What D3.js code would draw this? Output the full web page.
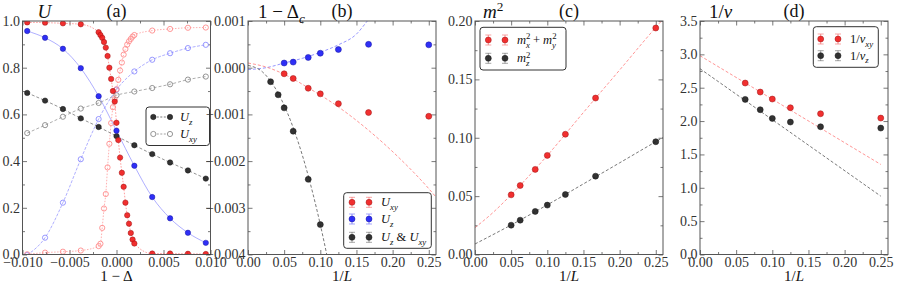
<!DOCTYPE html>
<html>
<head>
<meta charset="utf-8">
<script src="https://cdn.jsdelivr.net/npm/d3@7"></script>
<style>
body { margin: 0; background: #fff; }
svg { display: block; }
svg text { font-family: "Liberation Serif", "DejaVu Serif", serif !important; }
</style>
</head>
<body>
<svg id="fig" width="915" height="286"></svg>
<script>
// ---- panel (a): Binder ratios vs 1 - Delta ----
const aX = [-0.0095, -0.0076, -0.0057, -0.0038, -0.0019, 0, 0.0019, 0.0038, 0.0057, 0.0076, 0.0095];
const aUzBlack = [0.692, 0.659, 0.623, 0.583, 0.546, 0.507, 0.468, 0.430, 0.394, 0.360, 0.325];
const aUxyBlack = [0.520, 0.554, 0.590, 0.625, 0.649, 0.682, 0.698, 0.713, 0.729, 0.749, 0.762];
const aUzBlue = [0.957, 0.928, 0.881, 0.798, 0.678, 0.530, 0.380, 0.246, 0.155, 0.093, 0.050];
const aUxyBlue = [-0.002, 0.072, 0.222, 0.408, 0.580, 0.706, 0.784, 0.834, 0.862, 0.884, 0.898];
const aXRed = [-0.0095, -0.0076, -0.0057, -0.0038,
  -0.0019, -0.00171, -0.00152, -0.00133, -0.00114, -0.00095, -0.00076, -0.00057, -0.00038, -0.00019, 0,
  0.00019, 0.00038, 0.00057, 0.00076, 0.00095, 0.00114, 0.00133, 0.00152, 0.00171, 0.0019,
  0.0038, 0.0057, 0.0076, 0.0095];
const aUzRed = [0.994, 0.993, 0.990, 0.986,
  0.952, 0.940, 0.928, 0.910, 0.886, 0.850, 0.800, 0.752, 0.700, 0.655, 0.564,
  0.490, 0.415, 0.350, 0.290, 0.222, 0.168, 0.132, 0.092, 0.064, 0.047,
  0.004, 0.004, 0.003, 0.002];
const aUxyRed = [0.001, 0.008, 0.012, 0.017,
  0.036, 0.046, 0.114, 0.197, 0.259, 0.373, 0.474, 0.563, 0.631, 0.665, 0.708,
  0.748, 0.788, 0.822, 0.856, 0.880, 0.899, 0.913, 0.923, 0.933, 0.940,
  0.959, 0.966, 0.971, 0.972];

// ---- panel (b): crossing points vs 1/L ----
const invL = [0.05, 0.0625, 0.0833, 0.1, 0.125, 0.1667, 0.25];
const bUxy = [-0.00013, -0.00023, -0.00044, -0.00056, -0.00077, -0.00096, -0.00104];
const bUz = [0.00010, 0.00012, 0.00022, 0.00031, 0.00039, 0.00050, 0.00049];
const bCrossX = [0.03125, 0.0417, 0.05, 0.0625, 0.0833, 0.1];
const bCross = [-0.00030, -0.00058, -0.00086, -0.00136, -0.00239, -0.00336];
// fitted curves
const bFitUxy = [[0, 0.0001], [0.025, 0.000015], [0.05, -0.00014], [0.0833, -0.00043], [0.125, -0.00084],
  [0.1667, -0.00134], [0.2083, -0.00192], [0.25, -0.00259], [0.26, -0.00277]];
const bFitUz = [[0, -0.00004], [0.025, 0.0], [0.05, 0.0001], [0.075, 0.0002], [0.1, 0.00033],
  [0.125, 0.00049], [0.15, 0.00072], [0.165, 0.00100], [0.18, 0.00130]];
const bFitCross = [[0, 0.00005], [0.02, -0.00009], [0.04, -0.0005], [0.06, -0.00118],
  [0.08, -0.00213], [0.1, -0.00336], [0.12, -0.00486]];

// ---- panel (c): order parameters vs 1/L ----
const cMxy = [0.0511, 0.0591, 0.0729, 0.0849, 0.1030, 0.1340, 0.1940];
const cMz = [0.0251, 0.0294, 0.0369, 0.0423, 0.0514, 0.0671, 0.0966];
const cFitMxy = [[0, 0.023], [0.025, 0.036], [0.05, 0.0512], [0.1, 0.0848], [0.15, 0.1217], [0.2, 0.158], [0.25, 0.1945], [0.26, 0.2015]];
const cFitMz = [[0, 0.009], [0.05, 0.0253], [0.1, 0.0425], [0.15, 0.0605], [0.2, 0.0785], [0.25, 0.0966], [0.26, 0.1002]];

// ---- panel (d): 1/nu vs 1/L ----
const dX = [0.0625, 0.0833, 0.1, 0.125, 0.1667, 0.25];
const dNuXy = [2.57, 2.435, 2.33, 2.20, 2.11, 2.045];
const dNuZ = [2.325, 2.17, 2.04, 1.985, 1.915, 1.895];
const dFitXy = [[0, 2.98], [0.25, 1.35]];
const dFitZ = [[0, 2.785], [0.25, 0.875]];

// tick labels
const aXTicks = [-0.01, -0.005, 0, 0.005, 0.01];
const aYTicks = [0, 0.2, 0.4, 0.6, 0.8, 1.0];
const lTicks = [0, 0.05, 0.1, 0.15, 0.2, 0.25];
const bYTicks = [-0.004, -0.003, -0.002, -0.001, 0, 0.001];
const cYTicks = [0, 0.05, 0.1, 0.15, 0.2];
const dYTicks = [0, 0.5, 1, 1.5, 2, 2.5, 3, 3.5];

const FONT = "Liberation Serif, DejaVu Serif, serif";
const RED = "#f01e1e", BLUE = "#1e1ef5", BLACK = "#222";
const svg = d3.select("#fig").attr("font-family", FONT);
const TOP = 21, BOT = 254.5, PW = 188;

function rich(g, x, y, size, anchor, parts) {
  const t = g.append("text").attr("x", x).attr("y", y).attr("font-size", size)
    .attr("text-anchor", anchor).attr("fill", "#111");
  let base = 0;
  parts.forEach(p => {
    const s = t.append("tspan").text(p.t);
    const off = p.sub ? size * 0.28 : p.sup ? -size * 0.38 : 0;
    if (off - base !== 0) s.attr("dy", off - base);
    base = off;
    if (p.sub || p.sup) s.attr("font-size", size * 0.7);
    if (p.it) s.attr("font-style", "italic");
    if (p.dx) s.attr("dx", p.dx);
  });
  return t;
}

function makePanel(left, xDom, yDom, o) {
  const x = d3.scaleLinear().domain(xDom).range([left, left + PW]);
  const y = d3.scaleLinear().domain(yDom).range([BOT, TOP]);
  const g = svg.append("g");
  const id = "clip" + Math.round(left);
  svg.append("clipPath").attr("id", id).append("rect")
    .attr("x", left).attr("y", TOP).attr("width", PW).attr("height", BOT - TOP);
  const styleAx = s => {
    s.select(".domain").remove();
    s.selectAll("line").attr("stroke", "#555").attr("stroke-width", 0.8);
    s.attr("font-family", FONT).attr("font-size", 14);
    s.selectAll("text").attr("fill", "#333");
  };
  const none = () => "";
  g.append("g").attr("transform", `translate(0,${BOT})`)
    .call(d3.axisBottom(x).tickValues(o.xt).tickFormat(o.xf).tickSizeInner(-4.5).tickSizeOuter(0).tickPadding(2.5)).call(styleAx);
  g.append("g").attr("transform", `translate(0,${BOT})`)
    .call(d3.axisBottom(x).tickValues(o.xm).tickFormat(none).tickSize(-2.5)).call(styleAx);
  g.append("g").attr("transform", `translate(0,${TOP})`)
    .call(d3.axisTop(x).tickValues(o.xt).tickFormat(none).tickSize(-4.5)).call(styleAx);
  g.append("g").attr("transform", `translate(0,${TOP})`)
    .call(d3.axisTop(x).tickValues(o.xm).tickFormat(none).tickSize(-2.5)).call(styleAx);
  g.append("g").attr("transform", `translate(${left},0)`)
    .call(d3.axisLeft(y).tickValues(o.yt).tickFormat(o.yf).tickSizeInner(-4.5).tickSizeOuter(0).tickPadding(2.5)).call(styleAx);
  g.append("g").attr("transform", `translate(${left},0)`)
    .call(d3.axisLeft(y).tickValues(o.ym).tickFormat(none).tickSize(-2.5)).call(styleAx);
  g.append("g").attr("transform", `translate(${left + PW},0)`)
    .call(d3.axisRight(y).tickValues(o.yt).tickFormat(none).tickSize(-4.5)).call(styleAx);
  g.append("g").attr("transform", `translate(${left + PW},0)`)
    .call(d3.axisRight(y).tickValues(o.ym).tickFormat(none).tickSize(-2.5)).call(styleAx);
  const plot = g.append("g").attr("clip-path", `url(#${id})`);
  g.append("rect").attr("x", left).attr("y", TOP).attr("width", PW).attr("height", BOT - TOP)
    .attr("fill", "none").attr("stroke", "#555").attr("stroke-width", 1);
  // title, panel letter, x label
  rich(g, left + o.titleDx, 18, 19, "start", o.title);
  rich(g, left + PW / 2, 17, 18, "middle", [{ t: o.letter }]);
  rich(g, left + PW / 2, 281, 15, "middle", o.xlabel);
  return { g, x, y, plot };
}

function dots(p, xs, ys, col, r, open) {
  p.plot.append("g").selectAll("circle").data(xs.map((v, i) => [v, ys[i]])).join("circle")
    .attr("cx", d => p.x(d[0])).attr("cy", d => p.y(d[1])).attr("r", r)
    .attr("fill", open ? "none" : col).attr("fill-opacity", 0.92)
    .attr("stroke", open ? col : d3.color(col).darker(1.2)).attr("stroke-width", open ? 0.9 : 0.5);
}
function curve(p, pts, col, dash, w) {
  p.plot.append("path").datum(pts)
    .attr("d", d3.line().x(d => p.x(d[0])).y(d => p.y(d[1])).curve(d3.curveMonotoneX))
    .attr("fill", "none").attr("stroke", col).attr("stroke-width", w || 0.8)
    .attr("stroke-dasharray", dash);
}
const zip = (xs, ys) => xs.map((v, i) => [v, ys[i]]);

function legend(g, x0, y0, w, h, rows) {
  g.append("rect").attr("x", x0).attr("y", y0).attr("width", w).attr("height", h).attr("rx", 3)
    .attr("fill", "#fff").attr("stroke", "#333").attr("stroke-width", 1);
  rows.forEach(r => {
    const [m1, m2] = r.mx;
    if (r.line) g.append("line").attr("x1", m1).attr("x2", m2).attr("y1", r.y).attr("y2", r.y)
      .attr("stroke", r.lineCol).attr("stroke-width", 0.8).attr("stroke-dasharray", r.line);
    [m1, m2].forEach(mx => {
      if (r.err) {
        g.append("path").attr("d", `M${mx},${r.y - 5}V${r.y + 5}M${mx - 3},${r.y - 5}H${mx + 3}M${mx - 3},${r.y + 5}H${mx + 3}`)
          .attr("stroke", r.col).attr("stroke-opacity", 0.45).attr("stroke-width", 0.9).attr("fill", "none");
      }
      g.append("circle").attr("cx", mx).attr("cy", r.y).attr("r", r.r)
        .attr("fill", r.open ? "#fff" : r.col).attr("fill-opacity", r.open ? 1 : 0.92)
        .attr("stroke", r.open ? r.col : d3.color(r.col).darker(1.2)).attr("stroke-width", r.open ? 0.9 : 0.5);
    });
    rich(g, r.tx, r.y + 4, 12.5, "start", r.text);
  });
}

const f3 = d3.format(".3f"), f2 = d3.format(".2f"), f1 = d3.format(".1f");
const lMinor = [0.025, 0.075, 0.125, 0.175, 0.225];

// ---------- (a) ----------
const pa = makePanel(22.5, [-0.01, 0.01], [0, 1], {
  xt: aXTicks, xf: f3, xm: [-0.0075, -0.0025, 0.0025, 0.0075],
  yt: aYTicks, yf: f1, ym: [0.1, 0.3, 0.5, 0.7, 0.9],
  title: [{ t: "U", it: true }], titleDx: 15, letter: "(a)",
  xlabel: [{ t: "1 − Δ" }]
});
curve(pa, zip(aX, aUxyBlack), "#8a8a8a", "3,2", 0.7);
curve(pa, zip(aX, aUxyBlue), "#8c8cff", "3,1.5", 0.7);
curve(pa, zip(aXRed, aUxyRed), "#ff8c8c", "1.5,1.5", 0.7);
curve(pa, zip(aX, aUzBlack), "#666", "3,2", 0.7);
curve(pa, zip(aX, aUzBlue), "#7878ff", null, 0.6);
curve(pa, zip(aXRed, aUzRed), "#ff7070", "1.5,1.5", 0.7);
dots(pa, aX, aUxyBlack, "#8a8a8a", 2.6, true);
dots(pa, aX, aUxyBlue, "#8c8cff", 2.6, true);
dots(pa, aXRed, aUxyRed, "#ff8c8c", 2.6, true);
dots(pa, aX, aUzBlack, BLACK, 2.7, false);
dots(pa, aX, aUzBlue, BLUE, 2.7, false);
dots(pa, aXRed, aUzRed, RED, 2.7, false);
legend(pa.g, 146, 107, 63.5, 38.5, [
  { y: 117, mx: [153.3, 170], col: BLACK, r: 2.7, line: "2,1.5", lineCol: "#555", tx: 180, text: [{ t: "U", it: true }, { t: "z", it: true, sub: true }] },
  { y: 134, mx: [153.3, 170], col: "#8a8a8a", r: 2.6, open: true, line: "2,1.5", lineCol: "#8a8a8a", tx: 180, text: [{ t: "U", it: true }, { t: "xy", it: true, sub: true }] }
]);

// ---------- (b) ----------
const pb = makePanel(248, [0, 0.26], [-0.004, 0.001], {
  xt: lTicks, xf: f2, xm: lMinor,
  yt: bYTicks, yf: f3, ym: [-0.0035, -0.0025, -0.0015, -0.0005, 0.0005],
  title: [{ t: "1 − Δ" }, { t: "c", it: true, sub: true }], titleDx: 10, letter: "(b)",
  xlabel: [{ t: "1/" }, { t: "L", it: true }]
});
curve(pb, bFitUz, "#7a7aff", "3,2", 0.8);
curve(pb, bFitUxy, "#ff7a7a", "3,2", 0.8);
curve(pb, bFitCross, "#555", "3,2", 0.8);
dots(pb, invL, bUz, BLUE, 3, false);
dots(pb, invL, bUxy, RED, 3, false);
dots(pb, bCrossX, bCross, BLACK, 3, false);
legend(pb.g, 343.7, 192.7, 87.6, 55.6, [
  { y: 202.3, mx: [352, 369], col: RED, r: 3, err: true, tx: 381, text: [{ t: "U", it: true }, { t: "xy", it: true, sub: true }] },
  { y: 219, mx: [352, 369], col: BLUE, r: 3, err: true, tx: 381, text: [{ t: "U", it: true }, { t: "z", it: true, sub: true }] },
  { y: 237.3, mx: [352, 369], col: BLACK, r: 3, err: true, tx: 381,
    text: [{ t: "U", it: true }, { t: "z", it: true, sub: true }, { t: " & " }, { t: "U", it: true }, { t: "xy", it: true, sub: true }] }
]);

// ---------- (c) ----------
const pc = makePanel(475, [0, 0.26], [0, 0.2], {
  xt: lTicks, xf: f2, xm: lMinor,
  yt: cYTicks, yf: f2, ym: [0.025, 0.075, 0.125, 0.175],
  title: [{ t: "m", it: true }, { t: "2", sup: true }], titleDx: 8, letter: "(c)",
  xlabel: [{ t: "1/" }, { t: "L", it: true }]
});
curve(pc, cFitMxy, "#ff7a7a", "3,2", 0.8);
curve(pc, cFitMz, "#555", "3,2", 0.8);
dots(pc, invL, cMxy, RED, 3, false);
dots(pc, invL, cMz, BLACK, 3, false);
legend(pc.g, 480, 27.3, 86, 42.7, [
  { y: 40, mx: [488.3, 505], col: RED, r: 3, err: true, tx: 517,
    text: [{ t: "m", it: true }, { t: "2", sup: true }, { t: "x", it: true, sub: true, dx: -4.5 }, { t: " + " },
      { t: "m", it: true }, { t: "2", sup: true }, { t: "y", it: true, sub: true, dx: -4.5 }] },
  { y: 58.3, mx: [488.3, 505], col: BLACK, r: 3, err: true, tx: 517,
    text: [{ t: "m", it: true }, { t: "2", sup: true }, { t: "z", it: true, sub: true, dx: -4.5 }] }
]);

// ---------- (d) ----------
const pd = makePanel(700, [0, 0.26], [0, 3.5], {
  xt: lTicks, xf: f2, xm: lMinor,
  yt: dYTicks, yf: f1, ym: [0.25, 0.75, 1.25, 1.75, 2.25, 2.75, 3.25],
  title: [{ t: "1/" }, { t: "ν", it: true }], titleDx: 9, letter: "(d)",
  xlabel: [{ t: "1/" }, { t: "L", it: true }]
});
curve(pd, dFitXy, "#ff7a7a", "3,2", 0.8);
curve(pd, dFitZ, "#555", "3,2", 0.8);
dots(pd, dX, dNuXy, RED, 3, false);
dots(pd, dX, dNuZ, BLACK, 3, false);
legend(pd.g, 813.3, 26.7, 65, 40.6, [
  { y: 39, mx: [820.7, 838], col: RED, r: 3, err: true, tx: 850,
    text: [{ t: "1/" }, { t: "ν", it: true }, { t: "xy", it: true, sub: true }] },
  { y: 55.7, mx: [820.7, 838], col: BLACK, r: 3, err: true, tx: 850,
    text: [{ t: "1/" }, { t: "ν", it: true }, { t: "z", it: true, sub: true }] }
]);
</script>
</body>
</html>
